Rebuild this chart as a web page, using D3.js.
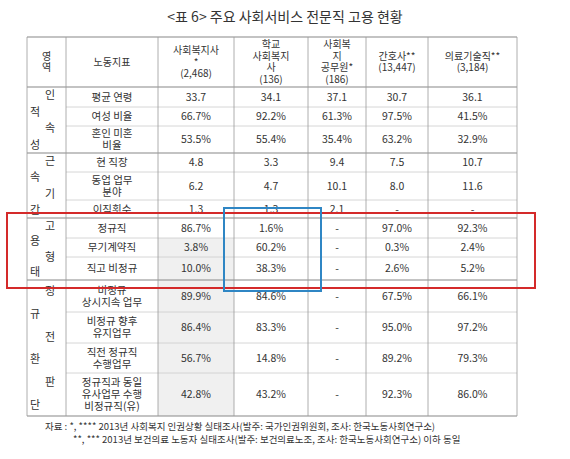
<!DOCTYPE html><html><head><meta charset="utf-8">
<script src="https://d3js.org/d3.v7.min.js"></script>
<style>body{margin:0;background:#fff}text{font-family:"Noto Sans CJK KR";fill:#333}</style></head><body>
<script>
const title="<표 6> 주요 사회서비스 전문직 고용 현황";
const headers=[["영","역"],["노동지표"],["사회복지사","*","(2,468)"],["학교","사회복지","사","(136)"],["사회복","지","공무원*","(186)"],["간호사**","(13,447)"],["의료기술직**","(3,184)"]];
const groups=[{chars:["인","적","속","성"],rows:3},{chars:["근","속","기","간"],rows:3},{chars:["고","용","형","태"],rows:3},{chars:["정","규","전","환","판","단"],rows:4}];
const indicators=[["평균 연령"],["여성 비율"],["혼인 미혼","비율"],["현 직장"],["동업 업무","분야"],["이직횟수"],["정규직"],["무기계약직"],["직고 비정규"],["비정규","상시지속 업무"],["비정규 향후","유지업무"],["직전 정규직","수행업무"],["정규직과 동일","유사업무 수행","비정규직(유)"]];
const socialWorker=["33.7","66.7%","53.5%","4.8","6.2","1.3","86.7%","3.8%","10.0%","89.9%","86.4%","56.7%","42.8%"];
const schoolWorker=["34.1","92.2%","55.4%","3.3","4.7","1.3","1.6%","60.2%","38.3%","84.6%","83.3%","14.8%","43.2%"];
const publicWorker=["37.1","61.3%","35.4%","9.4","10.1","2.1","-","-","-","-","-","-","-"];
const nurse=["30.7","97.5%","63.2%","7.5","8.0","-","97.0%","0.3%","2.6%","67.5%","95.0%","89.2%","92.3%"];
const medTech=["36.1","41.5%","32.9%","10.7","11.6","-","92.3%","2.4%","5.2%","66.1%","97.2%","79.3%","86.0%"];
const notes=["자료 : *, **** 2013년 사회복지 인권상황 실태조사(발주: 국가인권위원회, 조사: 한국노동사회연구소)","**, ***  2013년 보건의료 노동자 실태조사(발주: 보건의료노조, 조사: 한국노동사회연구소) 이하 동일"];

const svg=d3.select("body").append("svg").attr("width",570).attr("height",459);
const colX=[27,66,158,234,308,366,428,517];
const rowY=[37,87,107,126,153,172,200,218,238,257,280,312,343,373,416];
svg.append("text").attr("x",285).attr("y",22).attr("text-anchor","middle").attr("font-size",14).text(title);
svg.append("rect").attr("x",colX[2]).attr("y",rowY[8]).attr("width",colX[3]-colX[2]).attr("height",rowY[14]-rowY[8]).attr("fill","#f0f0f0");
const thick=[0,1,4,7,10,14];
rowY.forEach((y,i)=>{const left=(thick.includes(i))?colX[0]:colX[1];
 svg.append("line").attr("x1",left).attr("x2",colX[7]).attr("y1",y).attr("y2",y).attr("stroke",thick.includes(i)?"#888":"#ccc").attr("stroke-width",thick.includes(i)?1.2:0.8);});
colX.forEach(x=>svg.append("line").attr("x1",x).attr("x2",x).attr("y1",rowY[0]).attr("y2",rowY[14]).attr("stroke","#999").attr("stroke-width",0.8));
function multi(x,yc,lines,fs,lh){lh=lh||fs+1;lines.forEach((l,i)=>svg.append("text").attr("x",x).attr("y",yc+(i-(lines.length-1)/2)*lh+fs*0.36).attr("text-anchor","middle").attr("font-size",fs).text(l));}
headers.forEach((h,i)=>multi((colX[i]+colX[i+1])/2,(rowY[0]+rowY[1])/2,h,10,11.5));
const cols=[socialWorker,schoolWorker,publicWorker,nurse,medTech];
indicators.forEach((ind,r)=>{const yc=(rowY[r+1]+rowY[r+2])/2;multi((colX[1]+colX[2])/2,yc,ind,10.5,12);
 cols.forEach((c,j)=>multi((colX[j+2]+colX[j+3])/2,yc,[c[r]],10.5));});
let ri=1;groups.forEach(g=>{const y0=rowY[ri],y1=rowY[ri+g.rows];const step=(y1-y0)/g.chars.length;
 g.chars.forEach((ch,k)=>svg.append("text").attr("x",k%2?35:50).attr("y",y0+step*(k+0.5)+4).attr("font-size",11).attr("text-anchor","middle").text(ch));ri+=g.rows;});
svg.append("rect").attr("x",7).attr("y",213).attr("width",528).attr("height",75).attr("fill","none").attr("stroke","#d42a2a").attr("stroke-width",2);
svg.append("rect").attr("x",224).attr("y",208).attr("width",97).attr("height",83).attr("fill","none").attr("stroke","#2f86c4").attr("stroke-width",2);
svg.append("text").attr("x",45).attr("y",430).attr("font-size",9.5).text(notes[0]);
svg.append("text").attr("x",73).attr("y",443).attr("font-size",9.5).text(notes[1]);
</script></body></html>
